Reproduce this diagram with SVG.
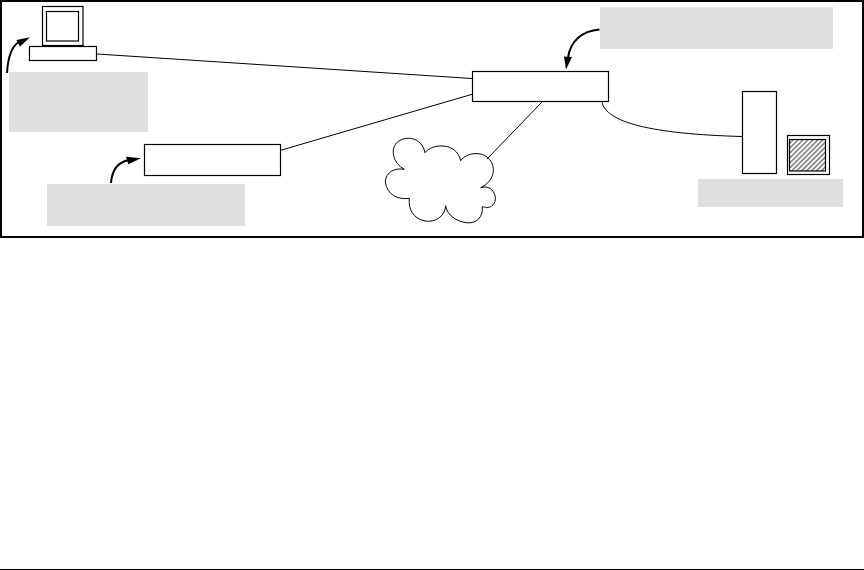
<svg xmlns="http://www.w3.org/2000/svg" width="864" height="570" viewBox="0 0 864 570">
<style>
.box{fill:#fff;stroke:#000;stroke-width:1.200}
.label{fill:#dfdfdf;stroke:none}
.wire{fill:none;stroke:#000;stroke-width:1}
.pointer{fill:none;stroke:#000;stroke-width:2}
.head{fill:#000;stroke:none}
</style>
<defs>
<pattern id="hatch" width="3.500" height="3.500" patternUnits="userSpaceOnUse" patternTransform="rotate(-45)">
<rect width="3.500" height="3.500" fill="#fff"/>
<rect width="3.500" height="1.300" y="1" fill="#666"/>
</pattern>
</defs>
<rect width="864" height="570" fill="#fff"/>
<rect x="1" y="1" width="862" height="236" fill="none" stroke="#000" stroke-width="2"/>
<line x1="0" y1="569.500" x2="864" y2="569.500" stroke="#000" stroke-width="1"/>
<g id="connectors">
<line class="wire" x1="97" y1="54" x2="472" y2="78.500"/>
<line class="wire" x1="280" y1="150.500" x2="473" y2="94"/>
<line class="wire" x1="542" y1="102" x2="487" y2="159"/>
<path class="wire" d="M602,102 C606,122 650,134 742,136.500"/>
<path class="pointer" d="M7,73 C8,56 12,46 19,42"/>
<path class="head" d="M30,37.300 L16.500,40 L20,46.800 Z"/>
<path class="pointer" d="M111,183 C112,170 118,162 129,160"/>
<path class="head" d="M141,158.300 L126,156.700 L128.300,164.300 Z"/>
<path class="pointer" d="M599.500,29.500 C582,31 570,41 568,58"/>
<path class="head" d="M566,69.500 L564,56.500 L572,57 Z"/>
</g>
<g id="pc">
<rect class="box" x="42.500" y="6.500" width="40.500" height="39"/>
<rect class="box" x="46.500" y="11.500" width="32" height="29.500"/>
<rect class="box" x="29.500" y="46.500" width="67" height="14"/>
</g>
<g id="pc-label"><rect class="label" x="9" y="72" width="139" height="60"/></g>
<g id="device"><rect class="box" x="144.500" y="144.500" width="136" height="31"/></g>
<g id="device-label"><rect class="label" x="47" y="184" width="198" height="42"/></g>
<g id="switch"><rect class="box" x="472.500" y="71.500" width="136" height="30"/></g>
<g id="switch-label"><rect class="label" x="600" y="7" width="233" height="42"/></g>
<g id="cloud">
<path class="wire" d="M404.300,169.300 C393.300,163.300 390,150 396.700,142.700 C405,135 421.700,136.700 425,152.700 C431.700,143.300 456.700,141.700 460.700,160.700 C466.700,151.700 483.300,151.700 488.300,158.300 C496,165 496,180 480.700,187.700 C493.300,183.300 500,200 491.700,206 C488.300,208.300 485,207.300 482.300,206.700 C483.300,216.700 476.700,224 466.700,222.700 C456.700,221.700 446.700,215 445.700,205.700 C445,216.700 435,222.700 425,221 C413.300,218.300 408.300,210 409.300,198.300 C398.300,200 386.700,195 385.300,181.700 C386,171.700 395,167.700 404.300,169.300 Z"/>
</g>
<g id="server">
<rect class="box" x="742.500" y="91.500" width="34" height="82"/>
<rect class="box" x="787.500" y="135.500" width="42" height="39"/>
<rect x="789.500" y="139.500" width="36" height="31.500" fill="url(#hatch)" stroke="#000" stroke-width="1.200"/>
</g>
<g id="server-label"><rect class="label" x="698" y="179" width="145" height="28"/></g>
</svg>
